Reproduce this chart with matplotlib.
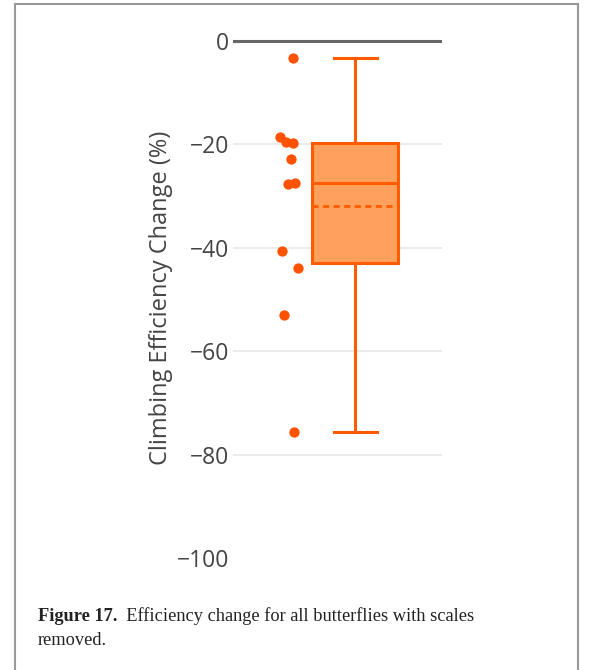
import matplotlib
matplotlib.use("Agg")
import matplotlib.pyplot as plt
from matplotlib.patches import Rectangle
from matplotlib.transforms import IdentityTransform

# ---- data ----
points = [-3.3, -18.6, -19.5, -19.7, -22.8, -27.6, -27.4, -40.6, -43.9, -53.0, -75.6]
point_jitter = [0.06, -0.09, -0.02, 0.06, 0.03, 0.00, 0.08, -0.07, 0.11, -0.05, 0.07]
box_q1 = -42.9
box_q3 = -19.7
box_median = -27.4
box_mean = -31.9
whisker_low = -75.6
whisker_high = -3.3
yticks = [0, -20, -40, -60, -80, -100]
ylabel = "Climbing Efficiency Change (%)"
caption_bold = "Figure 17."
caption_line1 = "  Efficiency change for all butterflies with scales"
caption_line2 = "removed."

LINE = "#ff5c00"
FILL = "#ffa05c"
PT = "#ff5200"

fig = plt.figure(figsize=(5.95, 6.7), dpi=100)
W, H = 595, 670

ax = fig.add_axes([233 / W, 1 - 561 / H, (442 - 233) / W, (561 - 38) / H])
ax.set_xlim(-1.42, 1.01)
ax.set_ylim(-100.6, 0.6)

stats = [dict(med=box_median, q1=box_q1, q3=box_q3, whislo=whisker_low,
              whishi=whisker_high, mean=box_mean, fliers=[])]
ax.bxp(stats, positions=[0], widths=1.0, patch_artist=True, showmeans=True,
       meanline=True, showfliers=False,
       boxprops=dict(facecolor=FILL, edgecolor=LINE, linewidth=2.2),
       medianprops=dict(color=LINE, linewidth=2.2),
       meanprops=dict(color=LINE, linewidth=2.0, linestyle=(0, (2.2, 1.6))),
       whiskerprops=dict(color=LINE, linewidth=2.2),
       capprops=dict(color=LINE, linewidth=2.2),
       capwidths=0.5, zorder=3)

point_pos = -0.78
xs = [point_pos + j for j in point_jitter]
ax.scatter(xs, points, s=55, color=PT, zorder=4, linewidths=0)

for t in yticks:
    if t == 0:
        ax.axhline(t, color="#666666", lw=2.2, zorder=1)
    elif t > -100:
        ax.axhline(t, color="#e8e8e8", lw=1.2, zorder=0)

ax.set_yticks(yticks)
ax.set_yticklabels(["0" if t == 0 else "\u2212" + str(abs(t)) for t in yticks],
                   fontsize=16.5, color="#444444", family="Open Sans")
ax.tick_params(axis="y", length=0, pad=3)
ax.set_xticks([])
for s in ax.spines.values():
    s.set_visible(False)
ax.set_ylabel(ylabel, fontsize=17, color="#444444", family="Open Sans")
ax.yaxis.set_label_coords(-(233 - 161) / (442 - 233), (561 - 298) / (561 - 38))
ax.yaxis.label.set_va("center")

fig.add_artist(Rectangle((15 / W, -0.01), (578 - 15) / W, 1 - 4 / H + 0.01,
                         transform=fig.transFigure, fill=False,
                         edgecolor="#999999", lw=1.5))

CAP_FS = 13.2
cap1 = fig.text(38 / W, 1 - 621 / H, caption_bold, fontsize=CAP_FS,
                family="Liberation Serif", weight="bold", color="#222222",
                va="baseline")
fig.canvas.draw()
bb = cap1.get_window_extent()
fig.text(bb.x1, (1 - 621 / H) * H, caption_line1, fontsize=CAP_FS,
         family="Liberation Serif", color="#222222", va="baseline",
         transform=IdentityTransform())
fig.text(38 / W, 1 - 645 / H, caption_line2, fontsize=CAP_FS,
         family="Liberation Serif", color="#222222", va="baseline")

fig.savefig("out.png", dpi=100)
